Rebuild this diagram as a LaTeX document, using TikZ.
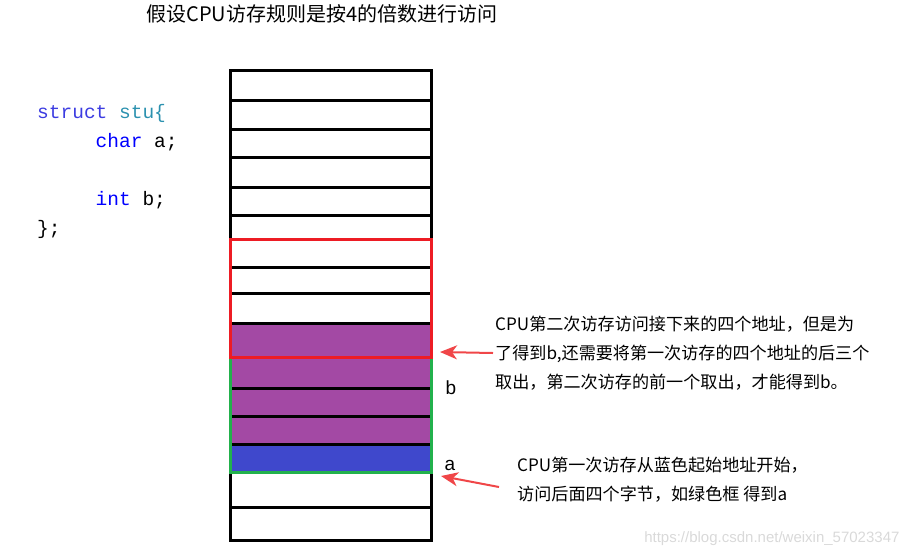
\documentclass[tikz,border=0pt]{standalone}
\usepackage{fontspec}
\usepackage{xcolor}
\usetikzlibrary{arrows.meta, positioning, fit}
\newfontfamily\cjk{Noto Sans CJK SC}
\newfontfamily\codefont{Liberation Mono}
\newfontfamily\markfont{Liberation Sans}
\definecolor{cellpurple}{RGB}{163,73,164}
\definecolor{cellblue}{RGB}{63,72,204}
\definecolor{boxred}{RGB}{237,28,36}
\definecolor{boxgreen}{RGB}{34,177,76}
\definecolor{arrowred}{RGB}{240,70,72}
\definecolor{kwblue}{RGB}{0,0,255}
\definecolor{kwstruct}{RGB}{60,60,225}
\definecolor{typeteal}{RGB}{43,145,175}
\newcommand{\kw}[1]{\textcolor{kwblue}{#1}}

\begin{document}
\begin{tikzpicture}[x=1pt,y=-1pt,
      cell/.style={draw,line width=3pt,minimum width=201pt,inner sep=0pt,outer sep=0pt,anchor=north west},
      accessbox/.style={draw=#1,line width=3pt,inner sep=0pt},
      note/.style={font=\cjk\fontsize{17.1}{29}\selectfont,align=left,anchor=west,inner sep=2pt},
      pointer/.style={draw=arrowred,line width=2pt,-{Stealth[length=17pt,width=14pt,inset=5pt]}}]
  \useasboundingbox (0,0) rectangle (913,558);
  \node[font=\cjk\fontsize{20}{24}\selectfont] (title) at (322,14) {假设CPU访存规则是按4的倍数进行访问};
  \node[font=\codefont\fontsize{19.5}{29}\selectfont,align=left,anchor=west,inner sep=0pt] (code) at (37,171)
    {\textcolor{kwstruct}{struct} \textcolor{typeteal}{stu\{}\\
     \hspace*{3em}\kw{char} a;\\
     \mbox{}\\
     \hspace*{3em}\kw{int} b;\\
     \};};
  % memory cells, top to bottom
  \foreach \i/\ya/\yb/\col in {1/70/100/white, 2/100/129/white, 3/129/157/white, 4/157/187/white,
      5/187/215/white, 6/215/239/white, 7/239/267/white, 8/267/293/white, 9/293/323/white,
      10/323/357/cellpurple, 11/357/388/cellpurple, 12/388/416/cellpurple, 13/416/444/cellpurple,
      14/444/472/cellblue, 15/472/507/white, 16/507/540/white}
    \node[cell,fill=\col,minimum height={\yb-\ya}] (c\i) at (230,\ya) {};
  \node[accessbox=boxgreen,fit=(c11)(c14)] (first) {};
  \node[accessbox=boxred,fit=(c7)(c10)] (second) {};
  \node[font=\markfont\fontsize{19}{21}\selectfont] (labelb) at (451,388) {b};
  \node[font=\markfont\fontsize{19}{21}\selectfont] (labela) at (450,465) {a};
  \node[note] (note2) at (493,353) {CPU第二次访存访问接下来的四个地址，但是为\\了得到b,还需要将第一次访存的四个地址的后三个\\取出，第二次访存的前一个取出，才能得到b。};
  \node[note] (note1) at (515,480) {CPU第一次访存从蓝色起始地址开始，\\访问后面四个字节，如绿色框 得到a};
  \coordinate (tip2) at (440,352);
  \coordinate (tip1) at (441,476);
  \draw[pointer] (note2.west) -- (tip2);
  \draw[pointer] ([xshift=-16pt,yshift=-7pt]note1.west) -- (tip1);
  \node[font=\markfont\fontsize{15}{18}\selectfont,text=black!15,anchor=east] (mark) at (903,539) {https://blog.csdn.net/weixin\_57023347};
\end{tikzpicture}
\end{document}
